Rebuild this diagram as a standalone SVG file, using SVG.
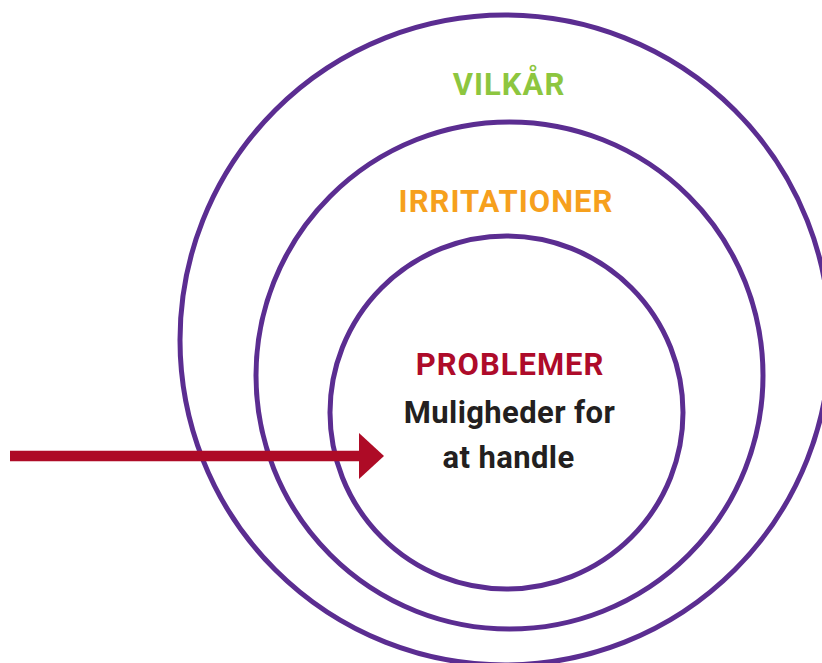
<svg xmlns="http://www.w3.org/2000/svg" width="822" height="663" viewBox="0 0 822 663">
<style>
.ring{fill:none;stroke:#5B2D91;stroke-width:5}
.t{font-family:Roboto,"Liberation Sans",sans-serif;font-weight:bold;font-size:31px;text-anchor:middle}
.cap{letter-spacing:1px}
.body{letter-spacing:0.4px}
</style>
<rect width="822" height="663" fill="#fff"/>
<g id="outer">
<circle class="ring" cx="505" cy="340" r="325"/>
<text class="t cap" x="509" y="95" fill="#8DC63F">VILKÅR</text>
</g>
<g id="middle">
<circle class="ring" cx="509.5" cy="375.5" r="253.5"/>
<text class="t cap" x="506" y="212" fill="#F6A01D">IRRITATIONER</text>
</g>
<g id="inner">
<circle class="ring" cx="506.5" cy="412.5" r="176.5"/>
<text class="t cap" x="510" y="375" fill="#AE0B2A">PROBLEMER</text>
<text class="t body" x="509.5" y="422.5" fill="#231F20">Muligheder for</text>
<text class="t body" x="508.5" y="468" fill="#231F20">at handle</text>
</g>
<g id="connectors">
<line x1="10" y1="456" x2="362" y2="456" stroke="#AE0B26" stroke-width="10.5"/>
<polygon points="359,433 384,456 359,479" fill="#AE0B26"/>
</g>
</svg>
